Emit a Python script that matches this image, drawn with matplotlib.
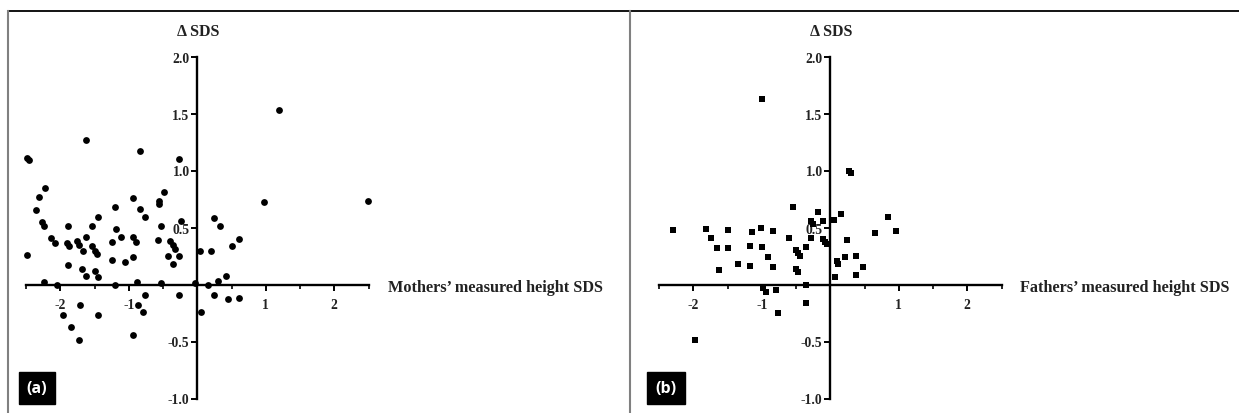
import matplotlib
matplotlib.use("Agg")
import matplotlib.pyplot as plt
from matplotlib.lines import Line2D

# ---- data ----
mothers_x = [-2.49, -2.46, -2.48, -2.36, -2.31, -2.22, -2.27, -2.23, -2.24, -2.13, -2.07, -2.05,
             -1.88, -1.90, -1.87, -1.88, -1.96, -1.85, -1.76, -1.72, -1.67, -1.71, -1.73, -1.68,
             -1.625, -1.625, -1.625, -1.54, -1.54, -1.49, -1.47, -1.49, -1.45, -1.45, -1.45,
             -1.25, -1.24, -1.20, -1.19, -1.20, -1.11, -1.05, -0.94, -0.94, -0.895, -0.94, -0.94,
             -0.885, -0.86, -0.84, -0.84, -0.77, -0.77, -0.79, -0.57, -0.56, -0.555, -0.525,
             -0.525, -0.49, -0.43, -0.40, -0.36, -0.33, -0.26, -0.36, -0.26, -0.23, -0.26,
             -0.03, 0.04, 0.05, 0.155, 0.20, 0.25, 0.25, 0.30, 0.33, 0.42, 0.45, 0.50, 0.61, 0.61,
             0.98, 1.19, 2.49]
mothers_y = [1.11, 1.09, 0.26, 0.65, 0.77, 0.85, 0.55, 0.51, 0.02, 0.41, 0.36, 0.00,
             0.51, 0.36, 0.34, 0.17, -0.27, -0.375, 0.385, 0.35, 0.29, -0.18, -0.49, 0.14,
             1.27, 0.42, 0.075, 0.51, 0.34, 0.29, 0.27, 0.12, 0.07, 0.59, -0.265,
             0.215, 0.37, 0.68, 0.49, 0.00, 0.42, 0.195, 0.76, 0.42, 0.37, 0.24, -0.44,
             0.02, -0.18, 1.17, 0.66, 0.59, -0.095, -0.245, 0.39, 0.73, 0.71, 0.51,
             0.01, 0.81, 0.25, 0.385, 0.35, 0.31, 0.25, 0.18, 1.10, 0.56, -0.095,
             0.01, 0.29, -0.245, 0.00, 0.29, 0.585, -0.095, 0.03, 0.51, 0.075, -0.125, 0.34, 0.40, -0.115,
             0.72, 1.53, 0.73]

fathers_x = [-2.30, -1.98, -1.82, -1.74, -1.65, -1.62, -1.49, -1.49, -1.35, -1.17, -1.165, -1.14,
             -1.01, -1.00, -1.00, -0.975, -0.945, -0.915, -0.83, -0.83, -0.79, -0.76, -0.60,
             -0.545, -0.50, -0.47, -0.44, -0.50, -0.47, -0.355, -0.355, -0.355, -0.28, -0.28,
             -0.245, -0.185, -0.11, -0.11, -0.08, -0.05, 0.055, 0.16, 0.07, 0.10, 0.12, 0.22,
             0.24, 0.27, 0.30, 0.38, 0.38, 0.48, 0.66, 0.84, 0.965]
fathers_y = [0.48, -0.485, 0.49, 0.41, 0.32, 0.13, 0.48, 0.32, 0.18, 0.34, 0.16, 0.46,
             0.495, 1.63, 0.33, -0.035, -0.07, 0.24, 0.47, 0.15, -0.05, -0.25, 0.41,
             0.68, 0.305, 0.28, 0.25, 0.14, 0.11, 0.325, 0.00, -0.165, 0.41, 0.56,
             0.53, 0.64, 0.56, 0.40, 0.375, 0.355, 0.565, 0.62, 0.07, 0.21, 0.18, 0.24,
             0.39, 1.00, 0.975, 0.25, 0.08, 0.15, 0.45, 0.59, 0.47]

x_major = [-2, -1, 1, 2]
x_minor = [-2.5, -1.5, -0.5, 0.5, 1.5, 2.5]
y_ticks = [-1.0, -0.5, 0.5, 1.0, 1.5, 2.0]
y_labels = ["-1.0", "-0.5", "0.5", "1.0", "1.5", "2.0"]
x_labels = ["-2", "-1", "1", "2"]

W, H = 1239, 414
fig = plt.figure(figsize=(W / 100, H / 100), dpi=100)
fig.patch.set_facecolor("white")

serif = ["Liberation Serif", "DejaVu Serif"]


def setup(ax, xs, ys, marker, ms, xlabel, ytitle_x, xlabel_x, label, label_x):
    ax.plot(xs, ys, linestyle="none", marker=marker, ms=ms, color="black",
            markeredgewidth=0, clip_on=False, zorder=3)
    ax.set_xlim(-2.5, 2.5)
    ax.set_ylim(-1.0, 2.0)
    ax.patch.set_alpha(0)
    for s in ["top", "right"]:
        ax.spines[s].set_visible(False)
    ax.spines["left"].set_position(("data", 0))
    ax.spines["bottom"].set_position(("data", 0))
    for s in ["left", "bottom"]:
        ax.spines[s].set_linewidth(1.7)
        ax.spines[s].set_color("black")
    ax.set_xticks(x_major)
    ax.set_xticklabels(x_labels)
    ax.set_xticks(x_minor, minor=True)
    ax.set_yticks(y_ticks)
    ax.set_yticklabels(y_labels)
    ax.tick_params(axis="x", which="major", direction="out", length=4.5, width=1.4, pad=5)
    ax.tick_params(axis="x", which="minor", direction="out", length=3, width=1.2)
    ax.tick_params(axis="y", which="major", direction="out", length=4.5, width=1.4, pad=1)
    for t in ax.get_xticklabels() + ax.get_yticklabels():
        t.set_fontfamily(serif)
        t.set_fontweight("bold")
        t.set_fontsize(9.8)
        t.set_color("#222222")
    fig.text(ytitle_x / W, 1 - 36 / H, "\u0394 SDS", family=serif, fontweight="bold",
             fontsize=11.5, ha="center", va="baseline", color="#222222")
    fig.text(xlabel_x / W, 1 - 292 / H, xlabel, family=serif, fontweight="bold",
             fontsize=11.7, ha="left", va="baseline", color="#222222")
    fig.text(label_x / W, 1 - 389 / H, label, family=["Open Sans", "DejaVu Sans"],
             fontweight="bold", fontsize=11.5, color="white", ha="center", va="center",
             bbox=dict(boxstyle="square,pad=0.5", fc="black", ec="black"))


ax_w = 342.5 / W
ax_b = (H - 399.5) / H
ax_h = 342 / H

ax1 = fig.add_axes([26 / W, ax_b, ax_w, ax_h])
setup(ax1, mothers_x, mothers_y, "o", 4.9, "Mothers\u2019 measured height SDS",
      198, 388, "(a)", 37)

ax2 = fig.add_axes([659 / W, ax_b, ax_w, ax_h])
setup(ax2, fathers_x, fathers_y, "s", 4.3, "Fathers\u2019 measured height SDS",
      831, 1020, "(b)", 666)

# frame lines
fig.add_artist(Line2D([8 / W, 1], [1 - 12 / H, 1 - 12 / H], transform=fig.transFigure,
                      color="black", lw=1.3))
fig.add_artist(Line2D([8 / W, 8 / W], [0, 1 - 12 / H], transform=fig.transFigure,
                      color="#808080", lw=1.5))
fig.add_artist(Line2D([630 / W, 630 / W], [0, 1 - 12 / H], transform=fig.transFigure,
                      color="#808080", lw=1.5))

fig.savefig("out.png", dpi=100, facecolor="white")
